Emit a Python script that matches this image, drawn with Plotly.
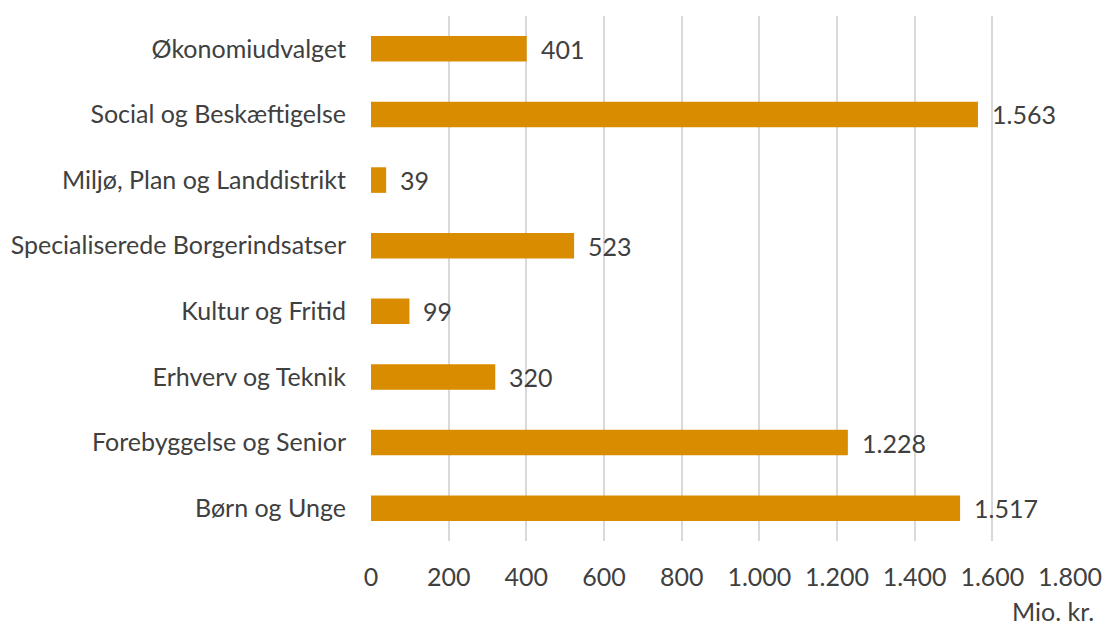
import plotly.graph_objects as go

categories = ["Børn og Unge", "Forebyggelse og Senior", "Erhverv og Teknik", "Kultur og Fritid",
              "Specialiserede Borgerindsatser", "Miljø, Plan og Landdistrikt",
              "Social og Beskæftigelse", "Økonomiudvalget"]
values = [1517, 1228, 320, 99, 523, 39, 1563, 401]
tick_vals = [0, 200, 400, 600, 800, 1000, 1200, 1400, 1600, 1800]

FONT = "Lato"
FS = 25
TXT = "#404040"

fig = go.Figure(go.Bar(
    x=values, y=categories, orientation="h",
    marker=dict(color="#DA8C00", line=dict(width=0)),
    width=0.39,
))

for c, v in zip(categories, values):
    fig.add_annotation(x=v, y=c, text=f"{v:,}".replace(",", "."), showarrow=False,
                       xanchor="left", xshift=12, font=dict(family=FONT, size=FS, color=TXT))

fig.add_annotation(xref="paper", yref="paper", x=1, y=0, yshift=-70, xshift=25,
                   text="Mio. kr.", showarrow=False, xanchor="right", yanchor="middle",
                   borderpad=0,
                   font=dict(family=FONT, size=FS, color=TXT))

# page has an 8px body margin, so the figure is 8px smaller and margins shifted
fig.update_layout(
    width=1102, height=618,
    margin=dict(l=363, r=40, t=8, b=85),
    paper_bgcolor="white", plot_bgcolor="white",
    separators=",.",
    showlegend=False,
    font=dict(family=FONT, size=FS, color=TXT),
    xaxis=dict(range=[0, 1800], tickvals=tick_vals, tickformat=",d",
               showgrid=True, gridcolor="#D9D9D9", gridwidth=2, zeroline=False,
               showline=False, ticks="", ticklabelstandoff=19, automargin=False,
               tickfont=dict(family=FONT, size=FS, color=TXT)),
    yaxis=dict(categoryorder="array", categoryarray=categories, range=[-0.5, 7.5],
               showgrid=False, zeroline=False, showline=False, ticks="",
               ticklabelstandoff=24, automargin=False,
               tickfont=dict(family=FONT, size=FS, color=TXT)),
)

fig.write_html("out.html")
